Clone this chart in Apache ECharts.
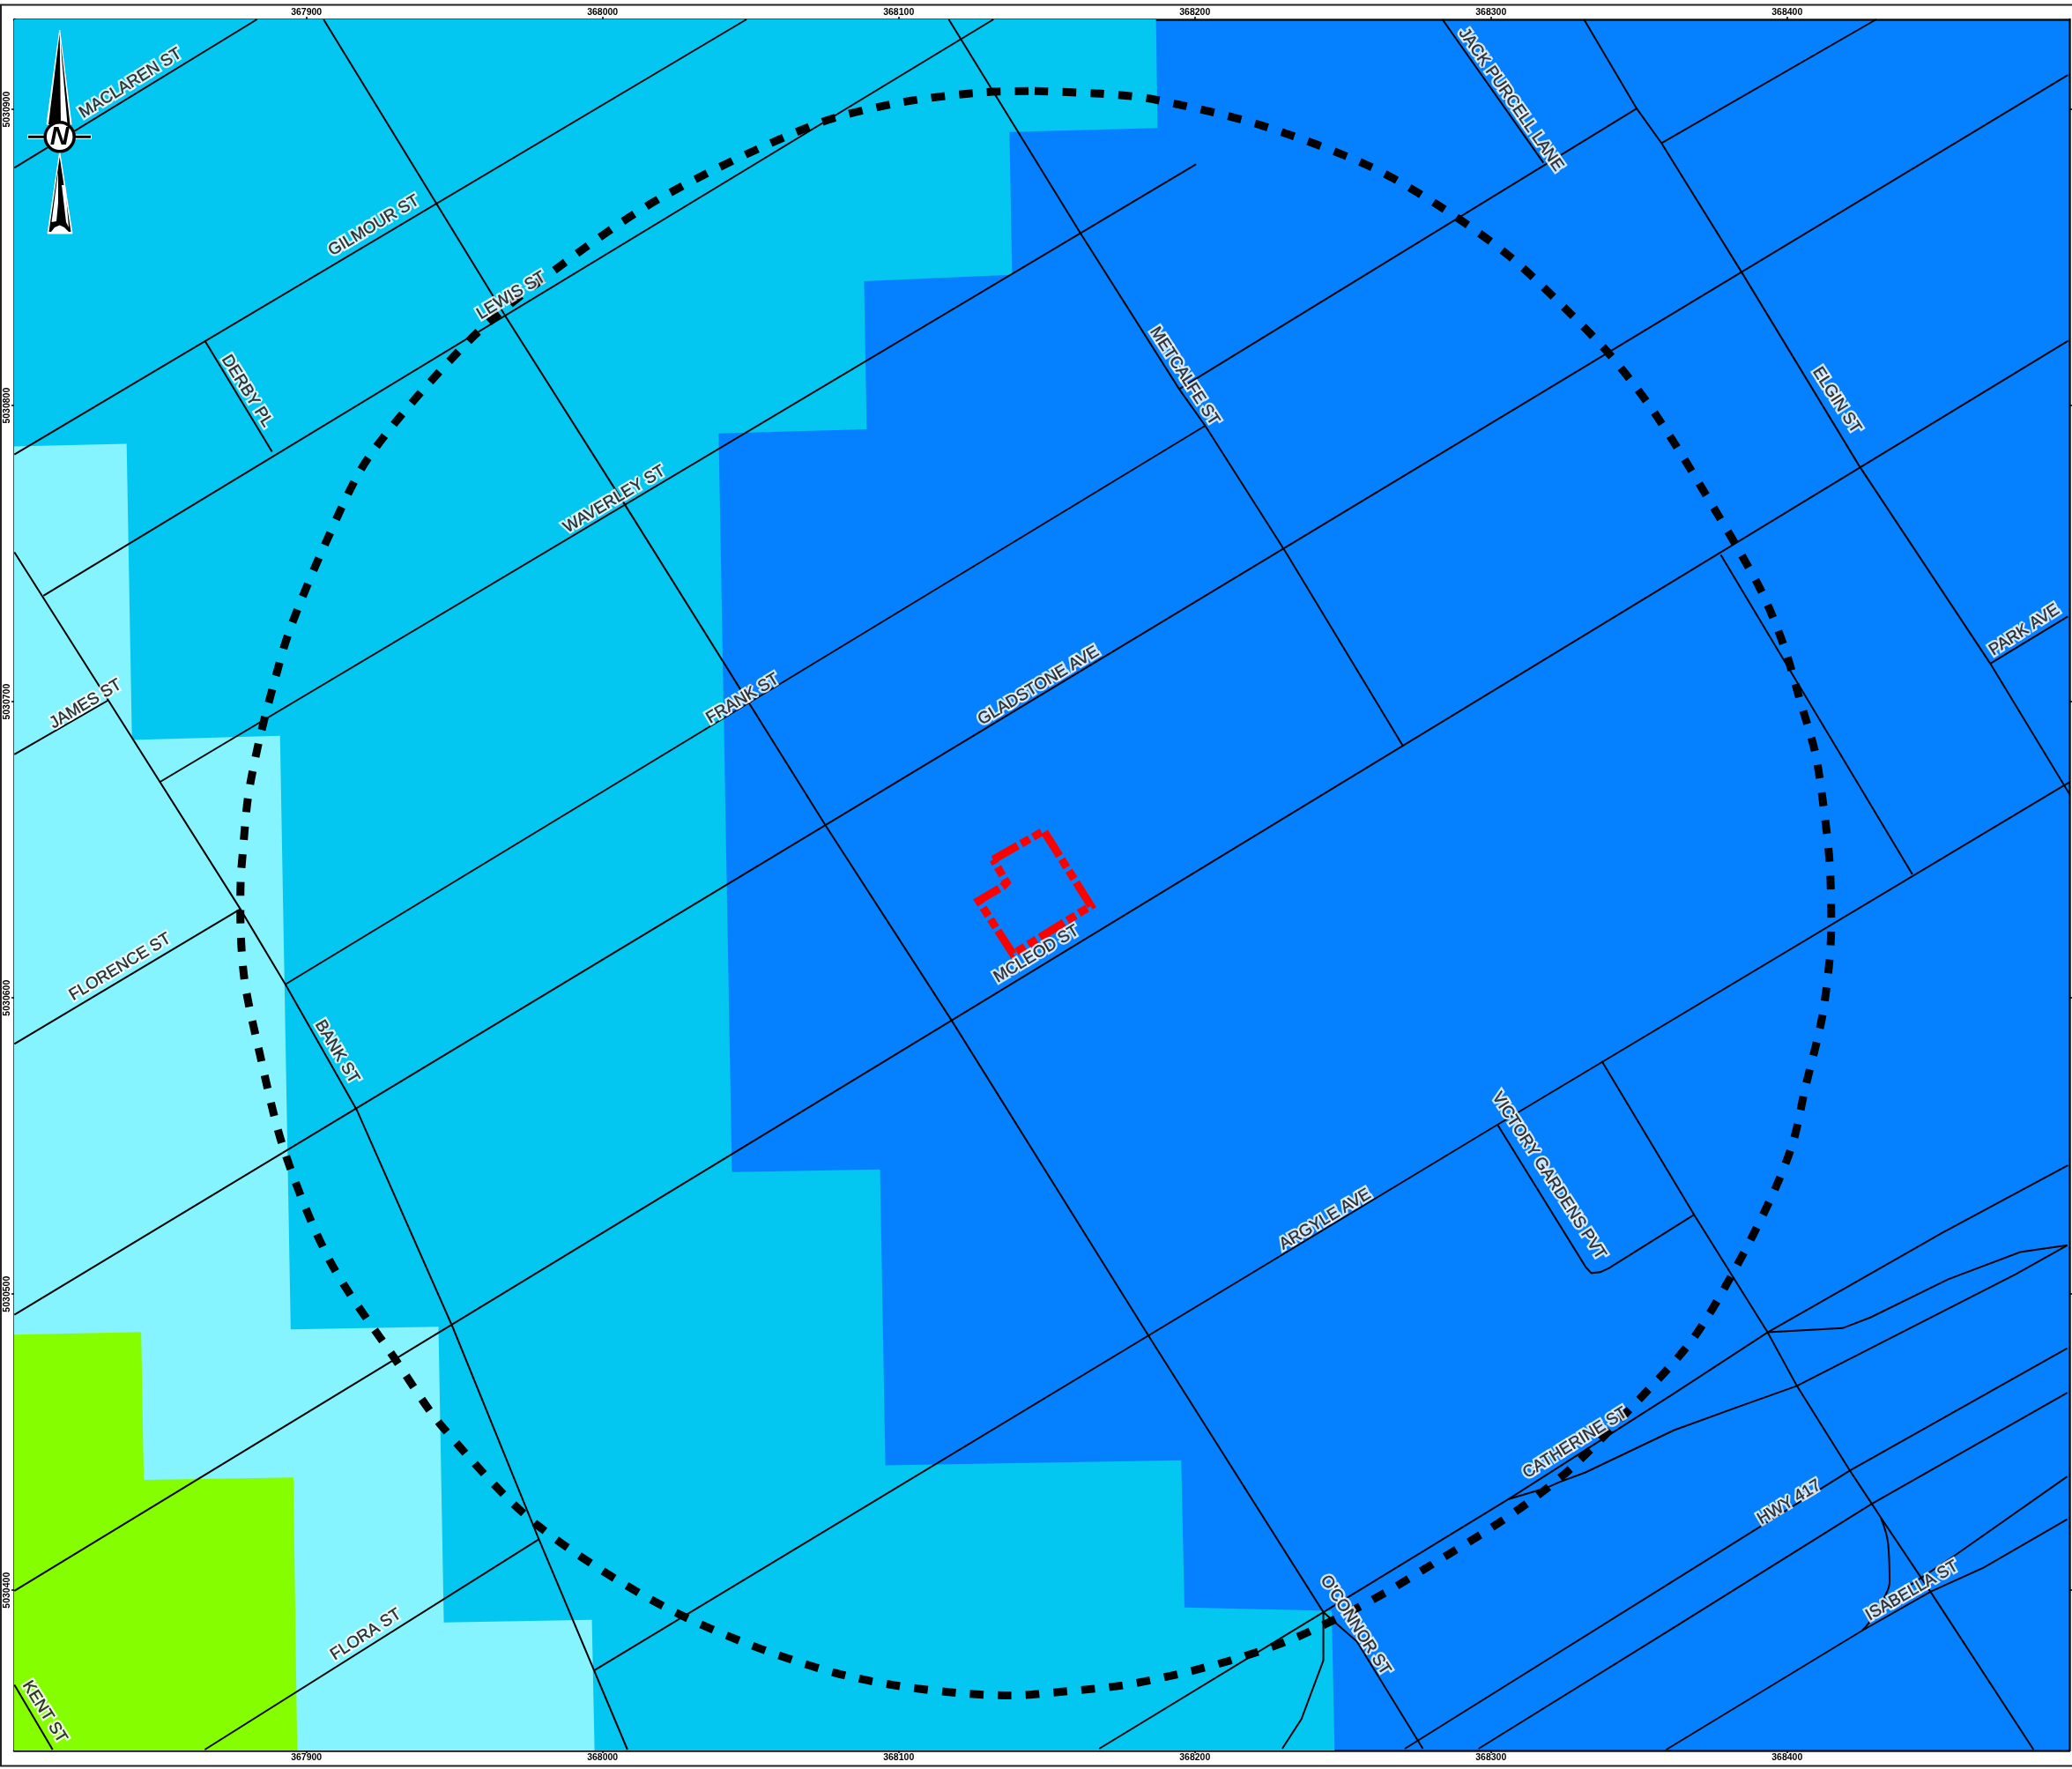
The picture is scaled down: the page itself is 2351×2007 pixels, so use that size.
<!DOCTYPE html>
<html><head><meta charset="utf-8">
<style>html,body{margin:0;padding:0;background:#fff}#c{width:2351px;height:2007px}</style>
<script src="https://cdn.jsdelivr.net/npm/echarts@6/dist/echarts.min.js"></script>
</head><body><div id="c"></div>
<script>
// Map coordinates: metres east / north of this origin (UTM)
const ORIGIN_E = 367800, ORIGIN_N = 5030300;
const xTicks = [367900,368000,368100,368200,368300,368400];
const yTicks = [5030400,5030500,5030600,5030700,5030800,5030900];
const xMin = 367801.3, xMax = 368495.3, yMin = 5030345.9, yMax = 5030930.4;

// Zones
const zoneMedium = [[386.9,630.4],[387.4,593.7],[337.4,592.4],[338.3,544.2],[288.3,542],[289.2,492],[239.2,490.6],[243.7,241.2],[293.7,242.1],[295.5,142.2],[395.4,143.9],[396.5,94.2],[446.2,93.1],[447.2,45.9],[1.3,45.9],[1.3,630.4]];
const zoneLight = [[1.3,486.2],[39.3,487.1],[41.1,387.1],[91.1,388.5],[94.7,188.1],[144.6,189],[146.4,89.1],[196.4,90],[197.3,45.9],[1.3,45.9]];
const zoneGreen = [[1.3,186.3],[44.2,187.2],[45.1,137.3],[95.6,138.1],[96.9,45.9],[1.3,45.9]];

// Roads
const rMaclaren = [[1.4,580.3],[83.3,630.4]];
const rGilmour = [[1.4,483.5],[248.6,630.4]];
const rLewis = [[11.2,435.8],[332,630.4]];
const rWaverley = [[50.5,372.9],[400.4,581.5]];
const rFrankW = [[92.9,304.6],[403.5,493.2]];
const rFrankE = [[394.7,505.6],[549.2,600.3]];
const rNorthEast = [[557.6,588.6],[630.1,630.4]];
const rGladstone = [[1.4,193],[694.8,611.6]];
const rMcleod = [[1.4,99.8],[694.9,521.9]];
const rArgyle = [[197.3,73],[502.2,257.2],[693.1,371.5],[696,373.2]];
const rCatherine = [[367.7,46.5],[443.4,92.6],[506,130.8],[561.7,166.4],[593.4,187.1],[652.4,220.7],[694.8,243.5]];
const rFlora = [[65.7,46.2],[178.5,117.2]];
const rJames = [[1.4,382.2],[33.1,400.5]];
const rFlorence = [[1.4,284.5],[77.7,330]];
const rBank = [[1.4,450.5],[33.1,400.5],[77.7,330],[92.9,304.6],[117,262.2],[149.5,188.6],[178.5,117.2],[208.4,46.2]];
const rDerby = [[65.7,521.9],[88.4,484.4]];
const rKent = [[1.4,68.1],[14.3,46.2]];
const rOconnor = [[105.8,630.4],[167.4,529.9],[208.4,465.2],[275.4,358.1],[317.8,292.5],[384.7,185.4],[443.4,92.6],[454.7,82.7],[477,46.5]];
const rMetcalfe = [[316.9,630.4],[361.5,558],[394.7,505.6],[403.5,493.2],[430.7,450.5],[470.4,384.9]];
const rElgin = [[531.4,630.4],[549.2,600.3],[557.6,588.6],[584.6,545.1],[624.3,479.7],[668.6,412.9],[695.6,368.4]];
const rPark = [[668.6,412.9],[694.8,428.8]];
const rJack = [[483.6,630.4],[517.7,582]];
const rConnector = [[577.6,449.6],[600.2,411.9],[642.3,341.7]];
const rVictory = [[502.2,257.2],[532,209.1],[533.9,207.1],[536.9,207.4],[539.9,208.8],[568.6,226.8]];
const rEast = [[537.4,278.7],[568.6,226.8],[593.4,187.1],[603.3,169],[621.2,140.4],[628.6,129.2],[631.6,124.6],[648.4,99.5],[683.2,46.2]];
const rRamp = [[593.4,187.1],[618.7,188.5],[628.1,192.1],[654.4,205],[678.7,214.2],[694.6,216.5]];
const rCatherineLow = [[506,130.8],[518.5,134.5],[523,136.5],[531.9,139.8],[561.7,154],[584.5,162.3],[603.3,169],[677.2,206.7],[694.6,216.5]];
const rHwyNorth = [[470.9,46.5],[561.7,103.2],[621.2,140.4],[694.6,181.7]];
const rHwySouth = [[495.8,46.5],[561.7,87.4],[621.2,124.6],[628.6,129.2],[694.6,166.7]];
const rIsabella = [[559.2,46.2],[625.2,86.3],[648.4,99.5],[666.3,107.6],[694.6,124]];
const rIsabellaUp = [[641.3,101.6],[656.4,111.6],[694.6,138.4]];
const rCurve = [[631.6,124.6],[634.1,115.7],[634.6,102.9],[632.6,97.2],[627.7,89.1],[625.2,86.3]];
const rSpur = [[443.4,92.6],[443.4,76.3],[436,56.5],[429.5,46.5]];
const roads = [rMaclaren,rGilmour,rLewis,rWaverley,rFrankW,rFrankE,rNorthEast,rGladstone,rMcleod,rArgyle,rCatherine,rFlora,rJames,rFlorence,rBank,rDerby,rKent,rOconnor,rMetcalfe,rElgin,rPark,rJack,rConnector,rVictory,rEast,rRamp,rCatherineLow,rHwyNorth,rHwySouth,rIsabella,rIsabellaUp,rSpur];

// Study area (black dashed) and site (red)
const studyArea = [[345.9,606.2],[368.3,605.3],[385.6,603.5],[421.5,594.9],[458.6,581],[483.8,566.6],[506.4,550.3],[527,530.9],[540.3,517],[552.3,501.7],[562.9,485.8],[577.6,461.5],[582.3,453.6],[591.6,436.7],[598.9,418.9],[604.2,401],[609.5,382.7],[612.4,363.8],[614.4,345],[614.9,324.7],[612.2,295.7],[606,269.1],[601.9,251],[594.9,233.2],[582,207.7],[567.6,184.1],[547.5,161.8],[527.6,141.7],[512.8,129.8],[497.5,119.4],[481,109.3],[465,99.6],[447.4,90.2],[430.9,82.7],[412.7,76.5],[394.4,71.7],[375.6,67.9],[356.9,65.9],[337.8,64.5],[282.1,71.2],[226.3,91.7],[178.5,121.6],[146,155.1],[130.4,177.4],[108.1,210.9],[92.4,248.8],[83.5,284.5],[79,306.8],[77.7,329.1],[77.8,339.5],[78.5,348.9],[80.3,367.8],[84,386.7],[88.7,405],[94.2,423.8],[106.7,454.1],[121.4,483.1],[154.9,521.9],[181.7,544.2],[219.6,570.1],[270.9,594.6],[299.9,602.2],[328.9,605.8],[345.9,606.2]];
const site = [[331.9,346.7],[349,356.4],[364.9,331.1],[338.6,314.8],[327,332.8],[335.1,337.6],[336.4,339],[331.9,346.7]];

// Street labels
const labelNames = ["MACLAREN ST","GILMOUR ST","LEWIS ST","DERBY PL","WAVERLEY ST","JAMES ST","FRANK ST","METCALFE ST","JACK PURCELL LANE","ELGIN ST","GLADSTONE AVE","PARK AVE","FLORENCE ST","BANK ST","MCLEOD ST","VICTORY GARDENS PVT","ARGYLE AVE","CATHERINE ST","HWY 417","ISABELLA ST","O'CONNOR ST","FLORA ST","KENT ST"];
const labelPoints = [[40.6,608.8],[122.8,560.7],[169.2,537.1],[79.9,504.9],[204,468.3],[25.5,399.2],[247.3,401],[396.5,509.9],[506.7,603.3],[616.7,501.8],[347.2,405.4],[680.1,424.2],[37.1,310.4],[110.3,281.8],[346.5,314.8],[519.5,239.9],[444,225.2],[528.4,149.7],[600.7,129.7],[642.2,99.8],[454.2,88.2],[120.1,85],[11.6,58.9]];
const labelAngles = [32,31,31,-58,31,31,31,-57,-55,-57,31,33,31,-59,31,-57,31,32,31,30,-57,33,-58];

const toMap = p => [ORIGIN_E + p[0], ORIGIN_N + p[1]];
const COL = {blue:'#0580ff', medium:'#03c6f1', light:'#85f4ff', green:'#85ff00'};

function zoneSeries(points, color){
  const mapped = points.map(toMap);
  return {type:'custom', coordinateSystem:'cartesian2d', silent:true, z:1, data:mapped, encode:{x:0,y:1},
    renderItem:(params, api)=>{
      if(params.dataIndex!==0) return null;
      return {type:'polygon', shape:{points:mapped.map(p=>api.coord(p))}, style:{fill:color}};
    }};
}
function lineSeries(points, color, width, dash, z, smooth){
  return {type:'line', data:points.map(toMap), symbol:'none', silent:true, z, smooth:smooth||false, clip:true,
    lineStyle:{color, width, type:dash||'solid', cap:'butt', join:'miter'}};
}
function labelSeries(z, fill, border, borderWidth){
  return {type:'scatter', symbolSize:1, silent:true, z, zlevel:0, itemStyle:{color:'transparent'},
    data:labelNames.map((n,i)=>({value:toMap(labelPoints[i]), name:n,
      label:{show:true, position:'inside', formatter:n, rotate:labelAngles[i], align:'center', verticalAlign:'middle',
        fontFamily:'Liberation Sans', fontSize:18.7, color:fill, textBorderColor:border, textBorderWidth:borderWidth}}))};
}
const series = [
  zoneSeries(zoneMedium, COL.medium), zoneSeries(zoneLight, COL.light), zoneSeries(zoneGreen, COL.green),
  ...roads.map(r=>lineSeries(r,'#000',2,null,3)),
  lineSeries(rCurve,'#000',2,null,3,0.4),
  lineSeries(studyArea,'#000',9,[15.5,16.2],4,0.3),
  lineSeries(site,'#ff0000',9,[32,4.5,11,4.5,11,4.5],5),
  labelSeries(6,'#fff','#fff',5),
  labelSeries(7,'#000','#000',0.4)
];

const tickLabelStyle = {fontFamily:'Liberation Sans', fontWeight:'bold', fontSize:10.5, color:'#000', margin:2.5};
const axisBase = {type:'value', scale:true, splitLine:{show:false}, axisLine:{show:true, onZero:false, lineStyle:{color:'#111', width:2.5}}};
const xAxisOf = pos => ({...axisBase, position:pos, min:xMin, max:xMax,
  axisTick:{show:true, customValues:xTicks, length:3, inside:false, lineStyle:{color:'#000', width:1.5}},
  axisLabel:{...tickLabelStyle, show:true, customValues:xTicks, formatter:v=>String(v)}});
const yAxisOf = (pos, showLab) => ({...axisBase, position:pos, min:yMin, max:yMax,
  axisTick:{show:true, customValues:yTicks, length:3, inside:false, lineStyle:{color:'#000', width:1.5}},
  axisLabel:{...tickLabelStyle, show:showLab, customValues:yTicks, rotate:90, formatter:v=>String(v)}});

// North arrow decoration (screen furniture, not data)
const wht = {fill:'#fff', stroke:'#fff', lineWidth:1};
const compass = [
  {type:'polygon', z:50, silent:true, shape:{points:[[67.7,34],[53,141],[81,141]]}, style:wht},
  {type:'polygon', z:51, silent:true, shape:{points:[[67.7,38],[55,141],[69,141],[68,60]]}, style:{fill:'#000'}},
  {type:'polygon', z:51, silent:true, shape:{points:[[68.5,45],[79.5,141],[76.5,141],[70,65]]}, style:{fill:'#000'}},
  {type:'line', z:50, silent:true, shape:{x1:31,y1:155.3,x2:104,y2:155.3}, style:{stroke:'#fff', lineWidth:5.5}},
  {type:'line', z:51, silent:true, shape:{x1:32,y1:155.3,x2:103,y2:155.3}, style:{stroke:'#000', lineWidth:3}},
  {type:'polygon', z:50, silent:true, shape:{points:[[67.7,172],[54,265],[82,265]]}, style:wht},
  {type:'polygon', z:51, silent:true, shape:{points:[[67.7,178],[55.5,263],[58,263],[62,258],[67.7,255.5],[73,258],[78,263],[80.5,263]]}, style:{fill:'#000'}},
  {type:'polygon', z:52, silent:true, shape:{points:[[66,195],[58.5,252],[64,251],[66,230]]}, style:{fill:'#fff'}},
  {type:'polygon', z:52, silent:true, shape:{points:[[70,210],[75,252],[78,258],[74,210]]}, style:{fill:'#fff'}},
  {type:'circle', z:53, silent:true, shape:{cx:67.7,cy:155.3,r:16.5}, style:{fill:'#fff', stroke:'#000', lineWidth:3.5}},
  {type:'text', z:54, silent:true, x:67.7, y:156, style:{text:'N', fontFamily:'Liberation Sans', fontWeight:'bold', fontStyle:'italic', fontSize:30, fill:'#000', align:'center', verticalAlign:'middle'}},
  {type:'rect', z:60, silent:true, shape:{x:1,y:5.5,width:2360,height:1998}, style:{fill:'none', stroke:'#222', lineWidth:2}}
];

const chart = echarts.init(document.getElementById('c'), null, {renderer:'canvas'});
chart.setOption({
  animation:false, backgroundColor:'#fff',
  grid:{show:true, left:16, top:22, width:2332, height:1964, backgroundColor:COL.blue, borderWidth:0, containLabel:false},
  xAxis:[xAxisOf('bottom'), xAxisOf('top')],
  yAxis:[yAxisOf('left',true), yAxisOf('right',false)],
  series, graphic:{elements:compass}
});
</script></body></html>
